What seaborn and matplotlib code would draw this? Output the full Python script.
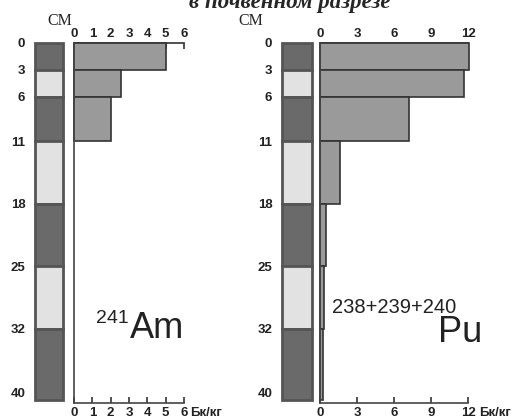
import numpy as np
import matplotlib
matplotlib.use('Agg')
import matplotlib.pyplot as plt
import seaborn as sns

sns.set_style('white')
plt.rcParams['font.family'] = ['Liberation Sans', 'DejaVu Sans']

# глубины слоёв почвенного разреза, см
depth_edges = [0, 3, 6, 11, 18, 25, 32, 40]
depth_ticks = [0, 3, 6, 11, 18, 25, 32, 40]
soil_colors = ['#6a6a6a', '#e2e2e2', '#6a6a6a', '#e2e2e2', '#6a6a6a', '#e2e2e2', '#6a6a6a']

# 241Am, Бк/кг (измерено только до 11 см)
am_edges = [0, 3, 6, 11]
am_values = [5.0, 2.55, 2.0]
am_ticks = [0, 1, 2, 3, 4, 5, 6]

# 238+239+240Pu, Бк/кг
pu_values = [12.1, 11.7, 7.2, 1.6, 0.5, 0.35, 0.25]
pu_ticks = [0, 3, 6, 9, 12]

W, H = 518, 419
fig = plt.figure(figsize=(W / 100, H / 100), dpi=100)


def box(x0, x1, y0, y1):
    return [x0 / W, 1 - y1 / H, (x1 - x0) / W, (y1 - y0) / H]


def soil_column(rect):
    ax = fig.add_axes(rect)
    tops = np.array(depth_edges[:-1])
    thick = np.diff(depth_edges)
    ax.bar(np.zeros(len(tops)), thick, bottom=tops, width=1, color=soil_colors,
           edgecolor='#555555', linewidth=2, clip_on=False)
    ax.set_xlim(-0.5, 0.5)
    ax.set_ylim(40, 0)
    ax.set_yticks(depth_ticks)
    ax.set_yticklabels([str(d) for d in depth_ticks], fontsize=9.5, fontweight='bold', color='#222222')
    ax.get_yticklabels()[-1].set_va('bottom')
    ax.tick_params(axis='y', length=0, pad=7)
    ax.set_xticks([])
    for s in ax.spines.values():
        s.set_visible(False)
    return ax


def profile(rect, edges, values, xmax, ticks):
    ax = fig.add_axes(rect)
    mids = [(a + b) / 2 for a, b in zip(edges[:-1], edges[1:])]
    sns.histplot(y=mids, weights=values, bins=edges, ax=ax, color='#9a9a9a',
                 edgecolor='#333333', linewidth=1.2, alpha=1)
    for p in ax.patches:
        p.set_clip_on(False)
    ax.set_xlim(0, xmax)
    ax.set_ylim(40.3, 0)
    ax.set_xlabel('')
    ax.set_ylabel('')
    ax.set_yticks([])
    ax.set_xticks(ticks)
    ax.set_xticklabels([str(t) for t in ticks], fontsize=9.5, fontweight='bold', color='#222222')
    ax.tick_params(axis='x', direction='in', length=4, width=1.2, color='#333333', pad=3, bottom=True)
    top = ax.secondary_xaxis('top')
    top.set_xticks(ticks)
    top.set_xticklabels([str(t) for t in ticks], fontsize=9.5, fontweight='bold', color='#222222')
    top.tick_params(axis='x', direction='in', length=4, width=1.2, color='#333333', pad=2)
    top.spines['top'].set_color('#333333')
    top.spines['top'].set_linewidth(1.2)
    ax.spines['right'].set_visible(False)
    ax.spines['top'].set_visible(False)
    for s in ['left', 'bottom']:
        ax.spines[s].set_color('#444444')
        ax.spines[s].set_linewidth(1.2)
    return ax


soil_column(box(35, 63, 43, 400))
profile(box(74, 184, 43, 403), am_edges, am_values, 6, am_ticks)
soil_column(box(282, 312, 43, 400))
profile(box(320, 468, 43, 403), depth_edges, pu_values, 12, pu_ticks)


def ftext(x, y, s, **kw):
    fig.text(x / W, 1 - y / H, s, **kw)


# заголовок обрезан верхним краем, как в оригинале
ftext(290, 8, 'в почвенном разрезе', ha='center', va='baseline', fontsize=16.5,
      fontweight='bold', style='italic', family='Liberation Serif')
ftext(47, 25, 'СМ', va='baseline', fontsize=11.5, family='Liberation Serif')
ftext(238, 25, 'СМ', va='baseline', fontsize=11.5, family='Liberation Serif')
ftext(190, 413, 'Бк/кг', va='center', fontsize=9.5, fontweight='bold', color='#222222')
ftext(479, 413, 'Бк/кг', va='center', fontsize=9.5, fontweight='bold', color='#222222')

ftext(96, 323, '241', va='baseline', fontsize=14, color='#222222')
ftext(130, 338, 'Am', va='baseline', fontsize=26, color='#222222')
ftext(332, 313, '238+239+240', va='baseline', fontsize=14.5, color='#222222')
ftext(438, 342, 'Pu', va='baseline', fontsize=26, color='#222222')

fig.savefig('out.png', dpi=100)
